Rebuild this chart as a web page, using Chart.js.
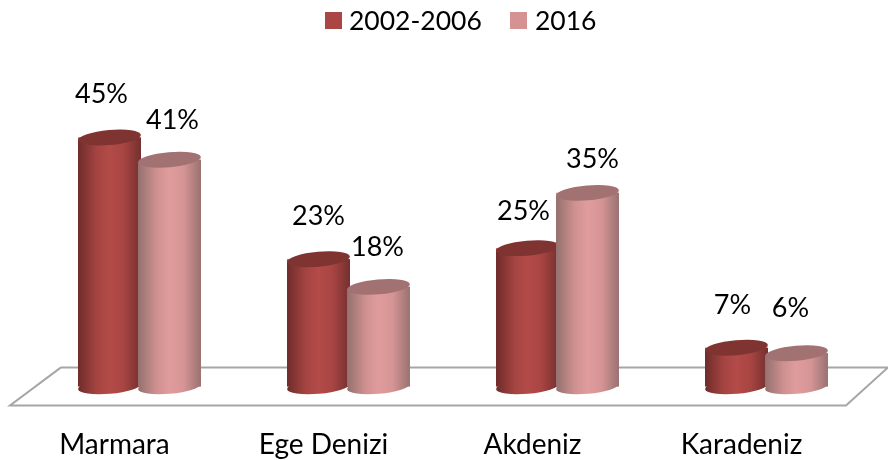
<!DOCTYPE html>
<html>
<head>
<meta charset="utf-8">
<style>
html, body { margin: 0; padding: 0; background: #fff; }
#wrap { width: 888px; height: 460px; }
</style>
<script src="https://cdn.jsdelivr.net/npm/chart.js@4"></script>
</head>
<body>
<div id="wrap"><canvas id="myChart" width="888" height="460"></canvas></div>
<script>
const categories = ["Marmara", "Ege Denizi", "Akdeniz", "Karadeniz"];
const seriesNames = ["2002-2006", "2016"];
const values2002 = [45, 23, 25, 7];
const values2016 = [41, 18, 35, 6];

const legendColors = ["#aa4643", "#d59292"];
const sideStops = [
    ["#6e2c2a", "#a54442", "#b34b48", "#a84543", "#74302e"],
    ["#94716f", "#cf9190", "#e09c9c", "#d69595", "#997271"],
];
const capColors = ["#7f3432", "#a27171"];

// label offsets from the middle of each bar top, the labels in the picture are hand placed
const labelNudge = [
    [[-8, -43], [0, -42.5], [-4, -37], [-4, -42]],
    [[3, -39.5], [-1, -40], [5, -34], [-6, -45]],
];
const legendSpots = [[325, 349], [510, 535]];

const RY = 7.5;
const TILT = -5 * Math.PI / 180;

function sideGradient(ctx, bar, ds) {
    const half = bar.width / 2;
    const g = ctx.createLinearGradient(bar.x - half, 0, bar.x + half, 0);
    const stops = sideStops[ds];
    const at = [0, 0.3, 0.5, 0.72, 1];
    stops.forEach((c, i) => g.addColorStop(at[i], c));
    return g;
}

function ellipse(ctx, x, y, rx, fill) {
    ctx.beginPath();
    ctx.ellipse(x, y, rx, RY, TILT, 0, Math.PI * 2);
    ctx.fillStyle = fill;
    ctx.fill();
}

const cylinderPlugin = {
    id: "cylinders",
    beforeDatasetsDraw(chart) {
        // floor of the 3d chart
        const { ctx, chartArea, scales } = chart;
        const front = scales.y.getPixelForValue(0) + 19;
        const back = scales.y.getPixelForValue(0) - 19;
        ctx.save();
        ctx.strokeStyle = "#a6a6a6";
        ctx.lineWidth = 2;
        ctx.beginPath();
        ctx.moveTo(chartArea.left + 26, back);
        ctx.lineTo(chartArea.left - 25, front);
        ctx.lineTo(chartArea.right - 25, front);
        ctx.lineTo(chartArea.right + 17, back);
        ctx.lineTo(chartArea.left + 26, back);
        ctx.stroke();
        ctx.restore();
    },
    afterDatasetsDraw(chart) {
        const ctx = chart.ctx;
        const zero = chart.scales.y.getPixelForValue(0);
        const slant = Math.sin(TILT);
        chart.data.datasets.forEach((d, ds) => {
            chart.getDatasetMeta(ds).data.forEach((bar, i) => {
                const rx = bar.width / 2;
                const grad = sideGradient(ctx, bar, ds);
                ellipse(ctx, bar.x, zero, rx, grad);
                ctx.save();
                ctx.beginPath();
                ctx.moveTo(bar.x - rx, bar.y - slant * rx);
                ctx.lineTo(bar.x + rx, bar.y + slant * rx);
                ctx.lineTo(bar.x + rx, zero + 10);
                ctx.lineTo(bar.x - rx, zero + 10);
                ctx.closePath();
                ctx.clip();
                bar.options = Object.assign({}, bar.options, { backgroundColor: grad });
                bar.draw(ctx);
                ctx.restore();
                ellipse(ctx, bar.x, bar.y, rx, capColors[ds]);
            });
        });
        ctx.save();
        ctx.font = "27px Lato";
        ctx.fillStyle = "#000";
        ctx.textAlign = "center";
        ctx.textBaseline = "middle";
        chart.data.datasets.forEach((d, ds) => {
            chart.getDatasetMeta(ds).data.forEach((bar, i) => {
                const n = labelNudge[ds][i];
                ctx.fillText(d.data[i] + "%", bar.x + n[0], bar.y + n[1]);
            });
        });
        // legend, the library puts box and text too far apart for this one
        ctx.font = "26.5px Lato";
        ctx.textAlign = "left";
        chart.data.datasets.forEach((d, ds) => {
            ctx.fillStyle = legendColors[ds];
            ctx.fillRect(legendSpots[ds][0], 12, 17, 17);
            ctx.fillStyle = "#000";
            ctx.fillText(d.label, legendSpots[ds][1], 21);
        });
        ctx.restore();
    },
};

new Chart(document.getElementById("myChart").getContext("2d"), {
    type: "bar",
    data: {
        labels: categories,
        datasets: [
            { label: seriesNames[0], data: values2002, backgroundColor: legendColors[0] },
            { label: seriesNames[1], data: values2016, backgroundColor: legendColors[1] },
        ],
    },
    options: {
        responsive: false,
        animation: false,
        events: [],
        layout: { padding: { left: 35, right: 17, top: 48, bottom: -36 } },
        categoryPercentage: 0.574,
        barPercentage: 1.05,
        plugins: {
            tooltip: { enabled: false },
            legend: { display: false },
        },
        scales: {
            x: {
                grid: { display: false },
                border: { display: false },
                ticks: { color: "#000", padding: 34, labelOffset: -25, maxRotation: 0, font: { family: "Lato", size: 28 } },
            },
            y: { display: false, min: 0, max: 61.2 },
        },
    },
    plugins: [cylinderPlugin],
});
</script>
</body>
</html>
